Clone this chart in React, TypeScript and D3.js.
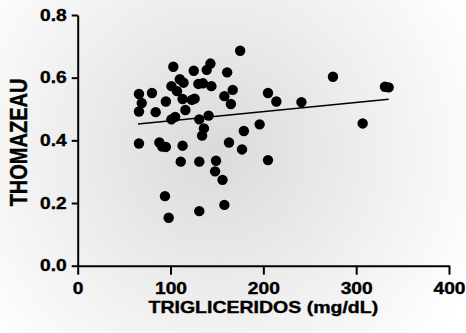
import React, { useRef, useEffect } from "react";
import * as d3 from "d3";

// Triglicéridos (mg/dL) vs Thomazeau, one entry per patient
const trigValues = [
  175, 103, 125, 143, 139, 161, 66, 80, 101, 110, 114, 107, 113, 95, 123, 126,
  130, 135, 144, 158, 167, 165, 69, 66, 84, 116, 105, 101, 131, 141, 136, 134,
  179, 196, 66, 88, 91, 95, 113, 163, 177, 111, 131, 149, 148, 156, 94, 98,
  131, 158, 205, 205, 214, 241, 275, 331, 335, 307,
];
const thomValues = [
  0.686, 0.635, 0.622, 0.645, 0.625, 0.617, 0.548, 0.551, 0.573, 0.595, 0.584,
  0.557, 0.532, 0.524, 0.529, 0.533, 0.58, 0.582, 0.573, 0.541, 0.561, 0.516,
  0.519, 0.492, 0.49, 0.497, 0.475, 0.467, 0.467, 0.479, 0.438, 0.415, 0.43,
  0.451, 0.39, 0.393, 0.38, 0.379, 0.383, 0.393, 0.371, 0.332, 0.332, 0.335,
  0.301, 0.274, 0.222, 0.153, 0.174, 0.194, 0.337, 0.551, 0.524, 0.522, 0.603,
  0.571, 0.569, 0.454,
];
// regression line end points
const fitX = [65, 335];
const fitY = [0.452, 0.531];

const xTicks = [0, 100, 200, 300, 400];
const yTicks = [0, 0.2, 0.4, 0.6, 0.8];

const xTitle = "TRIGLICERIDOS (mg/dL)";
const yTitle = "THOMAZEAU";

const width = 466;
const height = 333;
const stretch = 1.2; // the original text is wide, as if scaled horizontally
const font = "'Liberation Sans', Arial, Helvetica, sans-serif";

const App: React.FC = () => {
  const svgRef = useRef<SVGSVGElement>(null);

  useEffect(() => {
    document.body.style.margin = "0";
    const svg = d3.select(svgRef.current);
    svg.selectAll("*").remove();
    svg.attr("width", width).attr("height", height);

    // soft grey vignette behind the plot
    const grad = svg
      .append("defs")
      .append("radialGradient")
      .attr("id", "bg")
      .attr("gradientUnits", "userSpaceOnUse")
      .attr("cx", 215)
      .attr("cy", 150)
      .attr("r", 290);
    grad.append("stop").attr("offset", 0).attr("stop-color", "#dadada");
    grad.append("stop").attr("offset", 0.5).attr("stop-color", "#ededed");
    grad.append("stop").attr("offset", 1).attr("stop-color", "#ffffff");
    svg.append("rect").attr("width", width).attr("height", height).attr("fill", "url(#bg)");

    const x = d3.scaleLinear().domain([0, 400]).range([77.7, 449]);
    const y = d3.scaleLinear().domain([0, 0.8]).range([265.7, 15]);

    // x axis
    const gx = svg
      .append("g")
      .attr("transform", `translate(0,${y(0)})`)
      .call(d3.axisBottom(x).tickValues(xTicks).tickSize(9).tickSizeOuter(0).tickPadding(8));
    // y axis
    const gy = svg
      .append("g")
      .attr("transform", `translate(${x(0)},0)`)
      .call(
        d3.axisLeft(y).tickValues(yTicks).tickSize(6).tickSizeOuter(0).tickPadding(5)
          .tickFormat(d3.format(".1f"))
      );

    [gx, gy].forEach(g => {
      g.select(".domain").attr("stroke", "#000").attr("stroke-width", 2);
      g.selectAll(".tick line").attr("stroke", "#000").attr("stroke-width", 2);
      g.selectAll(".tick text")
        .attr("fill", "#000")
        .attr("stroke", "#000")
        .attr("stroke-width", 0.35)
        .attr("font-family", font)
        .attr("font-weight", "bold")
        .attr("font-size", 16);
    });
    gx.selectAll(".tick text").attr("transform", `scale(${stretch},1)`);
    gy.selectAll(".tick text")
      .attr("x", -11 / stretch)
      .attr("transform", `scale(${stretch},1)`);

    // regression line
    svg
      .append("line")
      .attr("x1", x(fitX[0]))
      .attr("y1", y(fitY[0]))
      .attr("x2", x(fitX[1]))
      .attr("y2", y(fitY[1]))
      .attr("stroke", "#000")
      .attr("stroke-width", 1.4);

    // points
    svg
      .append("g")
      .selectAll("circle")
      .data(d3.range(trigValues.length))
      .enter()
      .append("circle")
      .attr("cx", i => x(trigValues[i]))
      .attr("cy", i => y(thomValues[i]))
      .attr("r", 5.2)
      .attr("fill", "#000");

    // axis titles
    svg
      .append("text")
      .attr("transform", `translate(${(x(0) + x(400)) / 2},313) scale(1.22,1)`)
      .attr("text-anchor", "middle")
      .attr("font-family", font)
      .attr("font-weight", "bold")
      .attr("font-size", 16)
      .attr("stroke", "#000")
      .attr("stroke-width", 0.35)
      .text(xTitle);

    svg
      .append("text")
      .attr("transform", `translate(27,142.5) scale(1.2,1) rotate(-90)`)
      .attr("text-anchor", "middle")
      .attr("font-family", font)
      .attr("font-weight", "bold")
      .attr("font-size", 20)
      .attr("stroke", "#000")
      .attr("stroke-width", 0.35)
      .text(yTitle);
  }, []);

  return (
    <div style={{ position: "absolute", left: 0, top: 0, width, height }}>
      <svg ref={svgRef} style={{ display: "block" }} />
    </div>
  );
};

export default App;
